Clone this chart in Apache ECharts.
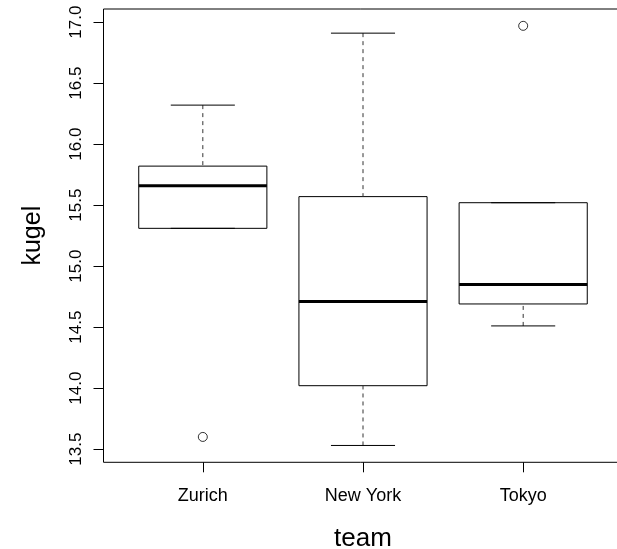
<!DOCTYPE html>
<html>
<head>
<meta charset="utf-8">
<title>kugel by team</title>
<script src="https://cdn.jsdelivr.net/npm/echarts@6/dist/echarts.min.js"></script>
<style>
  html, body { margin: 0; padding: 0; background: #fff; }
  #chart { width: 617px; height: 549px; }
</style>
</head>
<body>
<div id="chart"></div>
<script>
// Five-number summaries per team (whisker ends, hinges, median)
const teams = ['Zurich', 'New York', 'Tokyo'];
const lowerWhisker = [15.31, 13.53, 14.51];
const lowerHinge = [15.31, 14.02, 14.69];
const medians = [15.66, 14.71, 14.85];
const upperHinge = [15.82, 15.57, 15.52];
const upperWhisker = [16.32, 16.91, 15.52];

// Points beyond the whiskers
const outlierTeam = ['Zurich', 'Tokyo'];
const outlierValue = [13.60, 16.97];

// Axis ticks
const yTicks = [13.5, 14.0, 14.5, 15.0, 15.5, 16.0, 16.5, 17.0];

// Axis limits: data range padded by 4% on each side
const yMin = 13.392, yMax = 17.108;
const xMin = 0.38, xMax = 3.62;

const FONT = '"Liberation Sans", Arial, Helvetica, sans-serif';

const boxData = teams.map((t, i) => [
  i + 1, lowerWhisker[i], lowerHinge[i], medians[i], upperHinge[i], upperWhisker[i]
]);
const outlierData = outlierTeam.map((t, k) => [teams.indexOf(t) + 1, outlierValue[k]]);

function renderBox(params, api) {
  const x = api.value(0);
  const lo = api.value(1), q1 = api.value(2), med = api.value(3), q3 = api.value(4), hi = api.value(5);
  const half = 0.4, capHalf = 0.2;
  const pL = api.coord([x - half, q3]);
  const pR = api.coord([x + half, q1]);
  const cx = api.coord([x, med])[0];
  const capL = api.coord([x - capHalf, lo])[0];
  const capR = api.coord([x + capHalf, lo])[0];
  const yLo = api.coord([x, lo])[1];
  const yHi = api.coord([x, hi])[1];
  const yQ1 = pR[1], yQ3 = pL[1];
  const yMed = api.coord([x, med])[1];
  const stroke = '#000';
  return {
    type: 'group',
    children: [
      {
        type: 'rect',
        shape: { x: pL[0], y: yQ3, width: pR[0] - pL[0], height: yQ1 - yQ3 },
        style: { fill: 'rgba(0,0,0,0)', stroke: stroke, lineWidth: 1 }
      },
      {
        type: 'line',
        shape: { x1: cx, y1: yHi, x2: cx, y2: yQ3 },
        style: { stroke: '#333', lineWidth: 1, lineDash: [4, 4] }
      },
      {
        type: 'line',
        shape: { x1: cx, y1: yLo, x2: cx, y2: yQ1 },
        style: { stroke: '#333', lineWidth: 1, lineDash: [4, 4] }
      },
      {
        type: 'line',
        shape: { x1: capL, y1: yHi, x2: capR, y2: yHi },
        style: { stroke: stroke, lineWidth: 1 }
      },
      {
        type: 'line',
        shape: { x1: capL, y1: yLo, x2: capR, y2: yLo },
        style: { stroke: stroke, lineWidth: 1 }
      },
      {
        type: 'line',
        shape: { x1: pL[0], y1: yMed, x2: pR[0], y2: yMed },
        style: { stroke: stroke, lineWidth: 3 }
      }
    ]
  };
}

const chart = echarts.init(document.getElementById('chart'), null, { renderer: 'canvas' });
chart.setOption({
  animation: false,
  backgroundColor: '#fff',
  grid: {
    left: 103.5, width: 519, top: 9, height: 453.3,
    outerBoundsMode: 'none',
    show: true, borderColor: '#000', borderWidth: 1, backgroundColor: 'transparent',
    containLabel: false
  },
  xAxis: {
    type: 'value', min: xMin, max: xMax,
    name: 'team', nameLocation: 'middle', nameGap: 64,
    nameTextStyle: { fontFamily: FONT, fontSize: 26, color: '#000' },
    axisLine: { show: false },
    splitLine: { show: false },
    axisTick: { show: true, length: 10, lineStyle: { color: '#000' }, customValues: [1, 2, 3] },
    axisLabel: {
      fontFamily: FONT, fontSize: 18, color: '#000', margin: 25,
      customValues: [1, 2, 3],
      formatter: v => teams[Math.round(v) - 1] || ''
    }
  },
  yAxis: {
    type: 'value', min: yMin, max: yMax,
    name: 'kugel', nameLocation: 'middle', nameGap: 58,
    nameTextStyle: { fontFamily: FONT, fontSize: 25, color: '#000' },
    axisLine: { show: false },
    splitLine: { show: false },
    axisTick: { show: true, length: 10, lineStyle: { color: '#000' }, customValues: yTicks },
    axisLabel: {
      fontFamily: FONT, fontSize: 17, color: '#000', margin: 19, rotate: 90,
      customValues: yTicks,
      formatter: v => v.toFixed(1)
    }
  },
  series: [
    {
      type: 'custom',
      renderItem: renderBox,
      data: boxData,
      encode: { x: 0, y: [1, 2, 3, 4, 5] },
      clip: false
    },
    {
      type: 'scatter',
      data: outlierData,
      symbol: 'circle',
      symbolSize: 9,
      itemStyle: { color: '#fff', borderColor: '#000', borderWidth: 1 },
      silent: true
    }
  ]
});
</script>
</body>
</html>
